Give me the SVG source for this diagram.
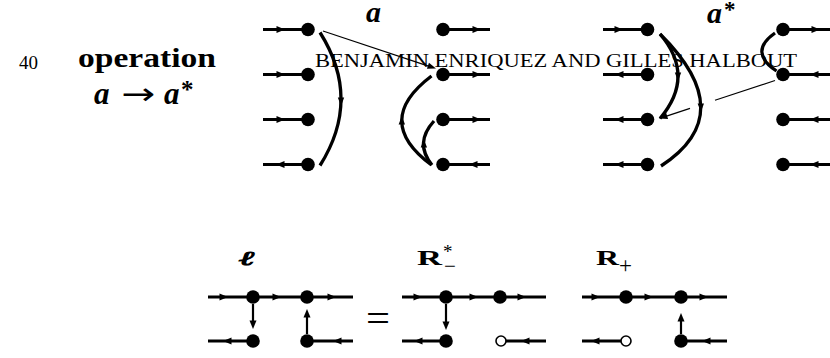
<svg xmlns="http://www.w3.org/2000/svg" width="830" height="358" viewBox="0 0 830 358">
<style>
.t{font-family:"Liberation Serif",serif;fill:#000}
.b{font-weight:bold}
.bi{font-weight:bold;font-style:italic}
.s{stroke:#000;stroke-width:3.1;fill:none}
.v{stroke:#000;stroke-width:2.2;fill:none}
.c{stroke:#000;stroke-width:3.3;fill:none}
.thin{stroke:#000;stroke-width:1.2;fill:none}
.dot{fill:#000}
.open{fill:#fff;stroke:#000;stroke-width:1.6}
</style>
<defs>
<path id="ah" d="M0,0 L-8.5,-3.5 L-8.5,3.5 Z" fill="#000"/>
<path id="ahs" d="M0,0 L-8.5,-3.2 L-8.5,3.2 Z" fill="#000"/>
</defs>
<g id="labels">
<text class="t" x="19" y="68.5" font-size="19">40</text>
<text class="t b" x="78" y="66.5" font-size="27" textLength="138" lengthAdjust="spacingAndGlyphs">operation</text>
<text class="t bi" x="94" y="104" font-size="31">a</text>
<text x="121" y="104" font-family="DejaVu Sans,sans-serif" font-size="30" textLength="34" lengthAdjust="spacingAndGlyphs">→</text>
<text class="t bi" x="164" y="104" font-size="31">a</text>
<text class="t b" x="181" y="98" font-size="25">*</text>
<text class="t" x="315" y="67" font-size="19" textLength="482" lengthAdjust="spacingAndGlyphs">BENJAMIN ENRIQUEZ AND GILLES HALBOUT</text>
<text class="t bi" x="366" y="22" font-size="30">a</text>
<text class="t bi" x="707" y="23" font-size="30">a</text>
<text class="t b" x="724" y="17" font-size="23">*</text>
<text x="239" y="265" font-family="DejaVu Serif,serif" font-weight="bold" font-style="italic" font-size="20" stroke="#000" stroke-width="0.9" textLength="16" lengthAdjust="spacingAndGlyphs">ℓ</text>
<text class="t b" x="417" y="265" font-size="22" textLength="25" lengthAdjust="spacingAndGlyphs">R</text>
<text class="t" x="443" y="258" font-size="19">*</text>
<text class="t" x="444" y="273" font-size="21">−</text>
<text class="t b" x="596" y="265" font-size="22" textLength="23" lengthAdjust="spacingAndGlyphs">R</text>
<text class="t" x="619" y="273" font-size="23">+</text>
<text class="t" x="366" y="332" font-size="40" textLength="24" lengthAdjust="spacingAndGlyphs">=</text>
</g>
<g id="connectors">
<line class="s" x1="263" y1="29.5" x2="308" y2="29.5"/><use href="#ah" transform="translate(285,29.5)"/>
<line class="s" x1="263" y1="74.5" x2="308" y2="74.5"/><use href="#ah" transform="translate(285,74.5)"/>
<line class="s" x1="263" y1="119.5" x2="308" y2="119.5"/><use href="#ah" transform="translate(285,119.5)"/>
<line class="s" x1="263" y1="164.5" x2="308" y2="164.5"/><use href="#ah" transform="translate(276,164.5) rotate(180)"/>
<line class="s" x1="443" y1="29.5" x2="490" y2="29.5"/><use href="#ah" transform="translate(481,29.5)"/>
<line class="s" x1="443" y1="74.5" x2="490" y2="74.5"/><use href="#ah" transform="translate(481,74.5)"/>
<line class="s" x1="443" y1="119.5" x2="490" y2="119.5"/><use href="#ah" transform="translate(481,119.5)"/>
<line class="s" x1="443" y1="164.5" x2="490" y2="164.5"/><use href="#ah" transform="translate(469,164.5) rotate(180)"/>
<path class="c" d="M320,32.5 Q362,99 320,165.5"/><use href="#ahs" transform="translate(341,106) rotate(90)"/>
<line class="thin" x1="323" y1="31" x2="430" y2="66.6"/><use href="#ahs" transform="translate(436,68.5) rotate(18.4)"/>
<path class="c" d="M431.5,76 Q372,121 431.5,165"/><use href="#ahs" transform="translate(401.8,116) rotate(-90)"/>
<path class="c" d="M434,121 Q414,143 432,165"/><use href="#ahs" transform="translate(423.6,139) rotate(-92)"/>
<line class="s" x1="603" y1="29.5" x2="647.5" y2="29.5"/><use href="#ah" transform="translate(623,29.5)"/>
<line class="s" x1="603" y1="74.5" x2="647.5" y2="74.5"/><use href="#ah" transform="translate(615,74.5) rotate(180)"/>
<line class="s" x1="603" y1="119.5" x2="647.5" y2="119.5"/><use href="#ah" transform="translate(615,119.5) rotate(180)"/>
<line class="s" x1="603" y1="164.5" x2="647.5" y2="164.5"/><use href="#ah" transform="translate(615,164.5) rotate(180)"/>
<line class="s" x1="783" y1="29.5" x2="830" y2="29.5"/><use href="#ah" transform="translate(820,29.5)"/>
<line class="s" x1="783" y1="74.5" x2="830" y2="74.5"/><use href="#ah" transform="translate(810,74.5) rotate(180)"/>
<line class="s" x1="783" y1="119.5" x2="830" y2="119.5"/><use href="#ah" transform="translate(810,119.5) rotate(180)"/>
<line class="s" x1="783" y1="164.5" x2="830" y2="164.5"/><use href="#ah" transform="translate(810,164.5) rotate(180)"/>
<path class="c" d="M660,34 Q696,76 660,118.5"/><use href="#ahs" transform="translate(678,81) rotate(90)"/>
<path class="c" d="M660,34 Q741,114 661,166"/><use href="#ahs" transform="translate(700.8,112) rotate(90)"/>
<path class="c" stroke-width="3.6" d="M775,33 Q748,52 776.5,71"/>
<line class="thin" x1="775" y1="80.5" x2="715" y2="100.2"/>
<line class="thin" x1="690" y1="108.4" x2="665" y2="116.6"/><use href="#ahs" transform="translate(659,118.5) rotate(161.9)"/>
<line class="s" x1="208" y1="297" x2="353" y2="297"/>
<use href="#ah" transform="translate(228,297)"/><use href="#ah" transform="translate(281,297)"/><use href="#ah" transform="translate(336,297)"/>
<line class="s" x1="208" y1="341" x2="253" y2="341"/><use href="#ah" transform="translate(223,341) rotate(180)"/>
<line class="s" x1="307" y1="341" x2="353" y2="341"/><use href="#ah" transform="translate(333,341) rotate(180)"/>
<line class="v" x1="253" y1="304" x2="253" y2="322"/><use href="#ah" transform="translate(253,329) rotate(90)"/>
<line class="v" x1="307" y1="334" x2="307" y2="316"/><use href="#ah" transform="translate(307,309) rotate(-90)"/>
<line class="s" x1="402" y1="297" x2="546" y2="297"/>
<use href="#ah" transform="translate(422,297)"/><use href="#ah" transform="translate(478,297)"/><use href="#ah" transform="translate(526,297)"/>
<line class="s" x1="402" y1="341" x2="446" y2="341"/><use href="#ah" transform="translate(414,341) rotate(180)"/>
<line class="s" x1="506" y1="341" x2="546" y2="341"/><use href="#ah" transform="translate(521,341) rotate(180)"/>
<line class="v" x1="446" y1="304" x2="446" y2="322"/><use href="#ah" transform="translate(446,330) rotate(90)"/>
<line class="s" x1="582" y1="297" x2="727" y2="297"/>
<use href="#ah" transform="translate(600,297)"/><use href="#ah" transform="translate(653,297)"/><use href="#ah" transform="translate(708,297)"/>
<line class="s" x1="582" y1="341" x2="621" y2="341"/><use href="#ah" transform="translate(591,341) rotate(180)"/>
<line class="s" x1="681" y1="341" x2="727" y2="341"/><use href="#ah" transform="translate(702,341) rotate(180)"/>
<line class="v" x1="681" y1="334" x2="681" y2="320"/><use href="#ah" transform="translate(681,313) rotate(-90)"/>
</g>
<g id="nodes">
<g id="a-L1"><circle class="dot" cx="308" cy="29.5" r="6.8"/></g>
<g id="a-L2"><circle class="dot" cx="308" cy="74.5" r="6.8"/></g>
<g id="a-L3"><circle class="dot" cx="308" cy="119.5" r="6.8"/></g>
<g id="a-L4"><circle class="dot" cx="308" cy="164.5" r="6.8"/></g>
<g id="a-R1"><circle class="dot" cx="443" cy="29.5" r="6.8"/></g>
<g id="a-R2"><circle class="dot" cx="443" cy="74.5" r="6.8"/></g>
<g id="a-R3"><circle class="dot" cx="443" cy="119.5" r="6.8"/></g>
<g id="a-R4"><circle class="dot" cx="443" cy="164.5" r="6.8"/></g>
<g id="as-L1"><circle class="dot" cx="647.5" cy="29.5" r="6.8"/></g>
<g id="as-L2"><circle class="dot" cx="647.5" cy="74.5" r="6.8"/></g>
<g id="as-L3"><circle class="dot" cx="647.5" cy="119.5" r="6.8"/></g>
<g id="as-L4"><circle class="dot" cx="647.5" cy="164.5" r="6.8"/></g>
<g id="as-R1"><circle class="dot" cx="783" cy="29.5" r="6.8"/></g>
<g id="as-R2"><circle class="dot" cx="783" cy="74.5" r="6.8"/></g>
<g id="as-R3"><circle class="dot" cx="783" cy="119.5" r="6.8"/></g>
<g id="as-R4"><circle class="dot" cx="783" cy="164.5" r="6.8"/></g>
<g id="l-1"><circle class="dot" cx="253" cy="297" r="6.8"/></g>
<g id="l-2"><circle class="dot" cx="307" cy="297" r="6.8"/></g>
<g id="l-3"><circle class="dot" cx="253" cy="341" r="6.8"/></g>
<g id="l-4"><circle class="dot" cx="307" cy="341" r="6.8"/></g>
<g id="rm-1"><circle class="dot" cx="446" cy="297" r="6.8"/></g>
<g id="rm-2"><circle class="dot" cx="500" cy="297" r="6.8"/></g>
<g id="rm-3"><circle class="dot" cx="446" cy="341" r="6.8"/></g>
<g id="rm-4"><circle class="open" cx="501" cy="341" r="5"/></g>
<g id="rp-1"><circle class="dot" cx="626" cy="297" r="6.8"/></g>
<g id="rp-2"><circle class="dot" cx="681" cy="297" r="6.8"/></g>
<g id="rp-3"><circle class="open" cx="626" cy="341" r="5"/></g>
<g id="rp-4"><circle class="dot" cx="681" cy="341" r="6.8"/></g>
</g>
</svg>
